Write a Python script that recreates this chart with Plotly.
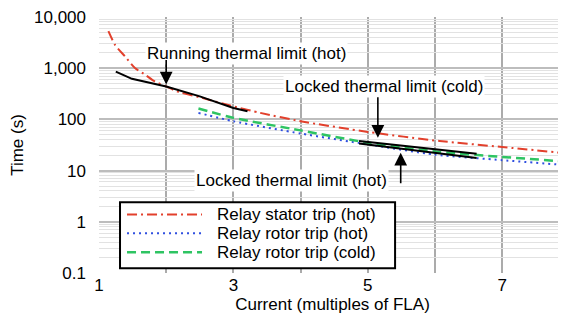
import math
import plotly.graph_objects as go

# ---- data ----
stator_hot_x = [1.14, 1.24, 1.39, 1.54, 1.69, 1.83, 2.0, 2.16, 2.5, 3.0, 3.4, 4.0, 5.0, 6.07, 7.0, 7.95]
stator_hot_y = [5280, 2830, 1680, 995, 741, 550, 440, 352, 270, 180, 134, 92, 57, 37.8, 28.9, 21.8]

rotor_hot_x = [2.48, 3.0, 4.0, 5.0, 6.0, 7.0, 7.95]
rotor_hot_y = [134, 92, 53, 32.5, 20.5, 16, 12.8]

rotor_cold_x = [2.48, 3.0, 4.0, 5.0, 6.07, 7.0, 7.95]
rotor_cold_y = [163, 107, 61, 35, 23.1, 18.5, 15.0]

running_hot_x = [1.25, 1.49, 2.0, 2.5, 3.0, 3.21]
running_hot_y = [860, 620, 440, 282, 167, 144]

locked_cold_x = [4.87, 6.62]
locked_cold_y = [37.9, 21.4]

locked_hot_x = [4.87, 6.62]
locked_hot_y = [34, 17.7]

x_tick_vals = [1, 3, 5, 7]
x_grid_vals = [2, 3, 4, 5, 6, 7]
y_tick_vals = [0.1, 1, 10, 100, 1000, 10000]
y_tick_text = ["0.1", "1", "10", "100", "1,000", "10,000"]

ann_text = ["Running thermal limit (hot)", "Locked thermal limit (cold)", "Locked thermal limit (hot)"]
ann_text_x = [3.2, 5.24, 3.865]
ann_text_y = [1920, 440, 6.34]
arrow_tip_x = [2.0, 5.15, 5.49]
arrow_tip_y = [480, 43.7, 22.4]
arrow_ay = [-26, -42, 32]

FONT = "Liberation Sans, Arial, sans-serif"
RED = "#E2402C"
BLUE = "#2F4FE0"
GREEN = "#2EC462"

series = [
    ("Relay stator trip (hot)", stator_hot_x, stator_hot_y, dict(color=RED, width=2, dash="10px,4px,2px,4px")),
    ("Relay rotor trip (hot)", rotor_hot_x, rotor_hot_y, dict(color=BLUE, width=2, dash="2px,4px")),
    ("Relay rotor trip (cold)", rotor_cold_x, rotor_cold_y, dict(color=GREEN, width=2.5, dash="9px,5px")),
]

fig = go.Figure()
for name, xs, ys, ln in series:
    fig.add_trace(go.Scatter(x=xs, y=ys, mode="lines", name=name, showlegend=False,
                             line=dict(shape="spline", smoothing=0.6, **ln)))
for xs, ys in [(running_hot_x, running_hot_y), (locked_cold_x, locked_cold_y), (locked_hot_x, locked_hot_y)]:
    fig.add_trace(go.Scatter(x=xs, y=ys, mode="lines", showlegend=False,
                             line=dict(color="black", width=2)))

# annotation labels and arrows (log axis -> log10 coordinates)
for t, tx, ty in zip(ann_text, ann_text_x, ann_text_y):
    fig.add_annotation(x=tx, y=math.log10(ty), text=t, showarrow=False,
                       font=dict(family=FONT, size=17, color="black"), bgcolor="white", borderpad=1)
for px, py, ay in zip(arrow_tip_x, arrow_tip_y, arrow_ay):
    fig.add_annotation(x=px, y=math.log10(py), text="", showarrow=True, ax=0, ay=ay,
                       arrowhead=2, arrowsize=1.6, arrowwidth=1.6, arrowcolor="black")

# boxed legend (paper coordinates)
box = dict(x0=0.045, x1=0.634, y0=0.019, y1=0.276)
fig.add_shape(type="rect", xref="paper", yref="paper", **box,
              line=dict(color="black", width=2), fillcolor="white", layer="above")
legend_rows = [0.2287, 0.155, 0.0814]
for (name, xs, ys, ln), ry in zip(series, legend_rows):
    fig.add_shape(type="line", xref="paper", yref="paper", x0=0.06, x1=0.2206, y0=ry, y1=ry,
                  line=dict(color=ln["color"], width=ln["width"], dash=ln["dash"]), layer="above")
    fig.add_annotation(xref="paper", yref="paper", x=0.2484, y=ry, xanchor="left", yanchor="middle",
                       text=name, showarrow=False, font=dict(family=FONT, size=17, color="black"))

minor_y = [m * 10 ** e for e in range(-1, 4) for m in range(2, 10)]

# page body has an 8px margin: compensate so the plot lands where the reference has it
fig.update_layout(
    width=558, height=310,
    margin=dict(l=91, r=0, t=7, b=45),
    paper_bgcolor="white", plot_bgcolor="white",
    font=dict(family=FONT, size=17, color="black"),
    showlegend=False,
    xaxis=dict(range=[1, 7.95], tickvals=x_tick_vals, showgrid=False, zeroline=False,
               showline=False, ticks="", tickfont=dict(size=17), ticklabeloverflow="allow",
               minor=dict(tickvals=x_grid_vals, showgrid=True, gridcolor="#ababab", gridwidth=2, ticks=""),
               title=dict(text="Current (multiples of FLA)", font=dict(size=17), standoff=2)),
    yaxis=dict(type="log", range=[-1, 4], tickvals=y_tick_vals, ticktext=y_tick_text,
               showgrid=True, gridcolor="#bdbdbd", gridwidth=1.5, zeroline=False, showline=False,
               ticks="", tickfont=dict(size=17), ticklabelstandoff=12, ticklabeloverflow="allow",
               minor=dict(tickvals=minor_y, showgrid=True, gridcolor="#e2e2e2", gridwidth=1, ticks=""),
               title=dict(text="Time (s)", font=dict(size=17), standoff=6)),
)

fig.write_html("out.html")
